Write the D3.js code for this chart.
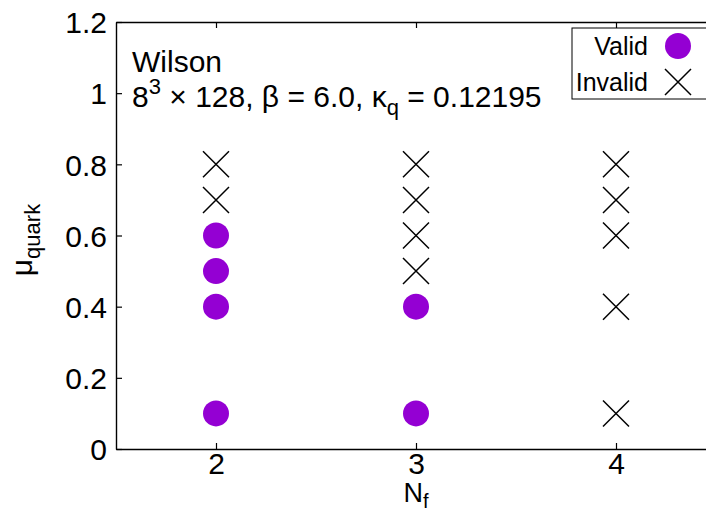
<!DOCTYPE html>
<html>
<head>
<meta charset="utf-8">
<script src="https://cdn.jsdelivr.net/npm/d3@7"></script>
<style>
  html, body { margin: 0; padding: 0; background: #fff; }
  svg { display: block; }
  text { font-family: "Liberation Sans", Arial, sans-serif; fill: #000; }
</style>
</head>
<body>
<svg id="chart" width="706" height="513"></svg>
<script>
// Runs that reached the target (valid) and those that did not (invalid)
const validNf = [2, 2, 2, 2, 3, 3];
const validMu = [0.1, 0.4, 0.5, 0.6, 0.1, 0.4];
const invalidNf = [2, 2, 3, 3, 3, 3, 4, 4, 4, 4, 4];
const invalidMu = [0.7, 0.8, 0.5, 0.6, 0.7, 0.8, 0.1, 0.4, 0.6, 0.7, 0.8];
const xTicks = [2, 3, 4];
const yTicks = [0, 0.2, 0.4, 0.6, 0.8, 1, 1.2];
const legendLabels = ["Valid", "Invalid"];

const W = 706, H = 513;
const margin = { left: 116, top: 22, right: -10, bottom: 64 };
const svg = d3.select("#chart");

const x = d3.scaleLinear().domain([1.5, 4.5]).range([margin.left, W - margin.right]);
const y = d3.scaleLinear().domain([0, 1.2]).range([H - margin.bottom, margin.top]);

const FS = 30;
const SUB = 22;
const purple = "#9400d3";
const tickLen = 6;
const font = '"Liberation Sans", Arial, sans-serif';

// Frame with inward ticks
const axisStroke = 1.4;
const gBottom = svg.append("g").attr("transform", `translate(0,${y(0)})`)
  .call(d3.axisBottom(x).tickValues(xTicks).tickFormat(d3.format("d")).tickSizeInner(-tickLen).tickSizeOuter(0).tickPadding(4));
const gTop = svg.append("g").attr("transform", `translate(0,${y(1.2)})`)
  .call(d3.axisTop(x).tickValues(xTicks).tickFormat("").tickSizeInner(-tickLen).tickSizeOuter(0));
const gLeft = svg.append("g").attr("transform", `translate(${x(1.5)},0)`)
  .call(d3.axisLeft(y).tickValues(yTicks).tickFormat(d => d3.format("~g")(d)).tickSizeInner(-tickLen).tickSizeOuter(0).tickPadding(9));

[gBottom, gTop, gLeft].forEach(g => {
  g.select(".domain").attr("stroke", "#000").attr("stroke-width", axisStroke);
  g.selectAll(".tick line").attr("stroke", "#000").attr("stroke-width", 1.2);
  g.selectAll(".tick text").attr("font-size", FS).attr("font-family", font).attr("fill", "#000");
});
gBottom.selectAll(".tick text").attr("dy", "0.71em");
gLeft.selectAll(".tick text").attr("dy", "0.36em");

// Axis titles
const yLab = svg.append("text")
  .attr("transform", `translate(32,240) rotate(-90)`)
  .attr("text-anchor", "middle").attr("font-size", FS);
yLab.append("tspan").text("μ");
yLab.append("tspan").attr("font-size", SUB).attr("dy", 8).text("quark");

const xLab = svg.append("text")
  .attr("x", x(3)).attr("y", 502)
  .attr("text-anchor", "middle").attr("font-size", 27);
xLab.append("tspan").text("N");
xLab.append("tspan").attr("font-size", 20).attr("dy", 6).text("f");

// Annotation
svg.append("text").attr("x", 132).attr("y", 72).attr("font-size", FS).text("Wilson");
const info = svg.append("text").attr("x", 132).attr("y", 107).attr("font-size", FS);
info.append("tspan").text("8");
info.append("tspan").attr("font-size", SUB).attr("dy", -13).text("3");
info.append("tspan").attr("dy", 13).text(" × 128, β = 6.0, κ");
info.append("tspan").attr("font-size", SUB).attr("dy", 8).text("q");
info.append("tspan").attr("dy", -8).text(" = 0.12195");

// Markers
const R = 13;
const crossPath = (cx, cy) => `M${cx - R},${cy - R}L${cx + R},${cy + R}M${cx - R},${cy + R}L${cx + R},${cy - R}`;

svg.append("g").selectAll("circle")
  .data(d3.zip(validNf, validMu))
  .join("circle")
  .attr("cx", d => x(d[0])).attr("cy", d => y(d[1])).attr("r", R)
  .attr("fill", purple);

svg.append("g").selectAll("path")
  .data(d3.zip(invalidNf, invalidMu))
  .join("path")
  .attr("d", d => crossPath(x(d[0]), y(d[1])))
  .attr("stroke", "#000").attr("stroke-width", 1.5).attr("fill", "none");

// Legend
const lg = svg.append("g");
lg.append("rect").attr("x", 572).attr("y", 28).attr("width", 160).attr("height", 71)
  .attr("fill", "#fff").attr("stroke", "#000").attr("stroke-width", 1);
lg.append("text").attr("x", 648).attr("y", 55).attr("text-anchor", "end").attr("font-size", 25).text(legendLabels[0]);
lg.append("text").attr("x", 648).attr("y", 91).attr("text-anchor", "end").attr("font-size", 25).text(legendLabels[1]);
lg.append("circle").attr("cx", 678).attr("cy", 46).attr("r", R).attr("fill", purple);
lg.append("path").attr("d", crossPath(678, 82)).attr("stroke", "#000").attr("stroke-width", 1.5).attr("fill", "none");
</script>
</body>
</html>
